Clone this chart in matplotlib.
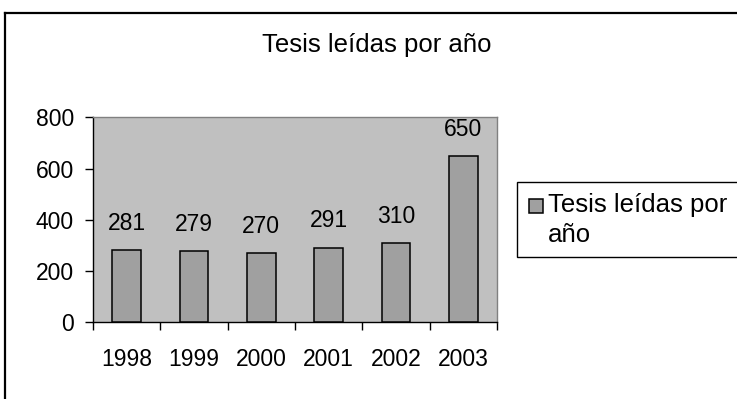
import matplotlib.pyplot as plt
import numpy as np
from matplotlib.lines import Line2D
from matplotlib.patches import Rectangle

plt.rcParams['font.family'] = ['Liberation Sans', 'DejaVu Sans']

# Tesis leídas por año
years = ["1998", "1999", "2000", "2001", "2002", "2003"]
theses = [281, 279, 270, 291, 310, 650]
series_name = ["Tesis leídas por", "año"]
title = "Tesis leídas por año"

W, H = 737, 399
bar_color = "#A0A0A0"

fig = plt.figure(figsize=(W / 100, H / 100), dpi=100)
ax = fig.add_axes([93 / W, 77 / H, 404 / W, 204.5 / H])

x = np.arange(len(years))
ax.bar(x, theses, width=0.43, color=bar_color, edgecolor="black",
       linewidth=1.1, zorder=3)

for xi, v in zip(x, theses):
    ax.annotate(str(v), (xi, v), xytext=(0, 14.5), textcoords="offset points",
                ha="center", va="baseline", fontsize=16.5)

ax.set_facecolor("#C0C0C0")
ax.set_xlim(-0.5, len(years) - 0.5)
ax.set_ylim(0, 800)
ax.set_yticks(np.arange(0, 801, 200))

ax.set_xticks(x)
ax.set_xticklabels(years)
ax.set_xticks(np.arange(-0.5, len(years), 1.0), minor=True)
ax.tick_params(axis="x", which="major", length=0, pad=19, labelsize=16.5)
ax.tick_params(axis="x", which="minor", length=5.8, width=1, direction="out")
ax.tick_params(axis="y", length=5.8, width=1, direction="out", pad=8, labelsize=16.5)

for side in ("top", "right"):
    ax.spines[side].set_color("#808080")
    ax.spines[side].set_linewidth(1.0)
for side in ("left", "bottom"):
    ax.spines[side].set_color("black")
    ax.spines[side].set_linewidth(1.0)

fig.text(377 / W, 1 - 52 / H, title, ha="center", va="baseline", fontsize=18.5)

# legend box, drawn by hand so the swatch sits on the first text line
fig.add_artist(Rectangle((517 / W, 1 - 257 / H), 240 / W, 75 / H,
                         facecolor="white", edgecolor="black", linewidth=1.0,
                         transform=fig.transFigure))
fig.add_artist(Rectangle((529 / W, 1 - 213 / H), 14 / W, 14 / H,
                         facecolor=bar_color, edgecolor="black", linewidth=1.1,
                         transform=fig.transFigure))
fig.text(548 / W, 1 - 212 / H, series_name[0], ha="left", va="baseline", fontsize=18.5)
fig.text(548 / W, 1 - 242 / H, series_name[1], ha="left", va="baseline", fontsize=18.5)

# chart-area border running off the right and bottom edges
fig.add_artist(Line2D([5 / W, 1.01], [1 - 13 / H] * 2, color="black",
                      linewidth=1.6, transform=fig.transFigure))
fig.add_artist(Line2D([5 / W] * 2, [-0.01, 1 - 13 / H], color="black",
                      linewidth=1.6, transform=fig.transFigure))

fig.savefig("out.png", dpi=100)
